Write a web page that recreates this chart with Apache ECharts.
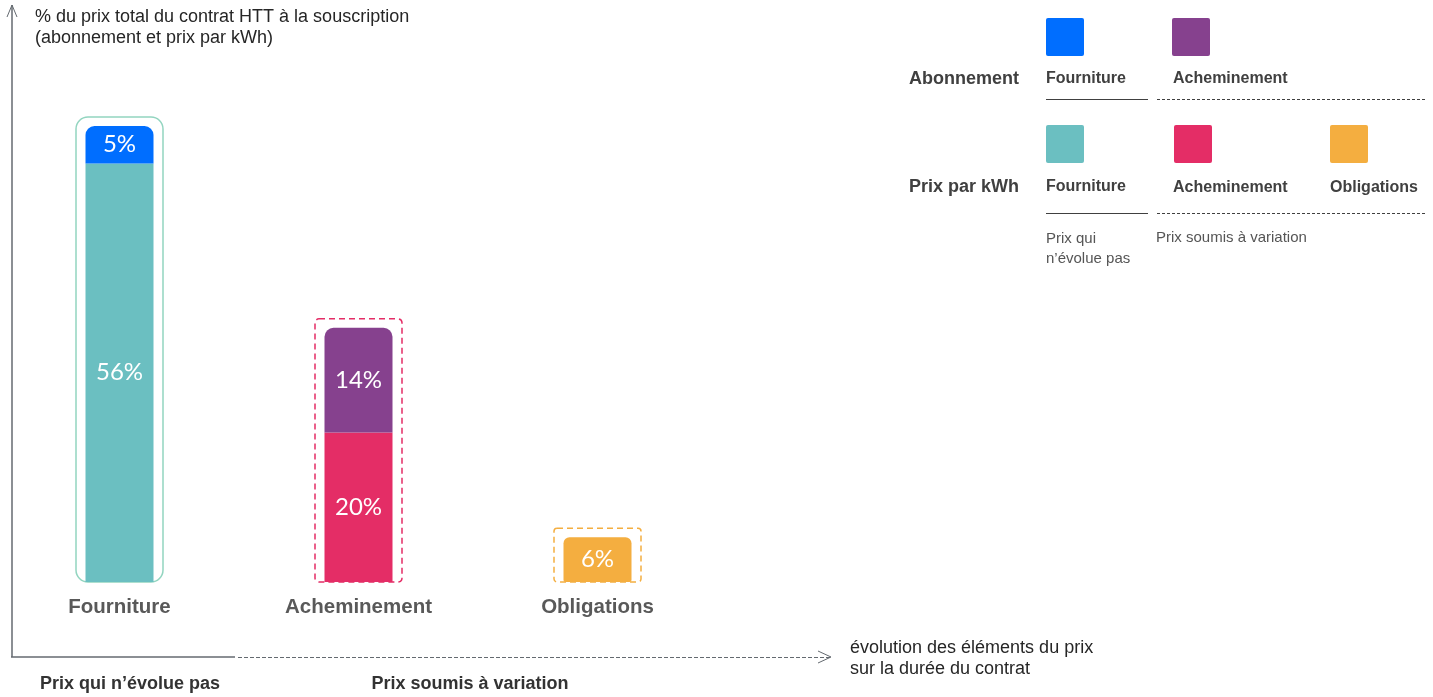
<!DOCTYPE html>
<html>
<head>
<meta charset="utf-8">
<script src="https://cdn.jsdelivr.net/npm/echarts@6/dist/echarts.min.js"></script>
<style>
html,body{margin:0;padding:0;background:#fff;}
#chart{width:1433px;height:697px;}
</style>
</head>
<body>
<div id="chart"></div>
<script>
// ---- data ----
const categories = ['Fourniture', 'Acheminement', 'Obligations'];
const kwhFourniture = [56, null, null];
const kwhAcheminement = [null, 20, null];
const kwhObligations = [null, null, 6];
const aboFourniture = [5, null, null];
const aboAcheminement = [null, 14, null];
const colors = {
  aboF: '#006EFF', aboA: '#86418E',
  kwhF: '#6BBFC1', kwhA: '#E42D66', kwhO: '#F4AE40'
};

const totals = categories.map((c, i) =>
  [kwhFourniture, kwhAcheminement, kwhObligations, aboFourniture, aboAcheminement]
    .reduce((s, arr) => s + (arr[i] || 0), 0));

const FONT = '"Liberation Sans", Arial, sans-serif';
const boxStyles = [
  { stroke: '#93D5C0', lineWidth: 1.5, lineDash: null, r: 12 },
  { stroke: '#E42D66', lineWidth: 1.5, lineDash: [6, 4], r: 4 },
  { stroke: '#F4AE40', lineWidth: 1.5, lineDash: [6, 4], r: 3 }
];

const labelCfg = {
  show: true, position: 'inside', color: '#fff', fontSize: 24,
  fontFamily: 'Lato, "Open Sans", sans-serif',
  formatter: p => (p.value == null ? '' : p.value + '%')
};

function bar(name, data, color, radius) {
  return {
    name, type: 'bar', stack: 'total', data, barWidth: 68,
    itemStyle: { color, borderRadius: radius || 0 },
    label: labelCfg, emphasis: { disabled: true }, z: 3
  };
}

const txt = (text, x, y, opts) => ({
  type: 'text', silent: true,
  style: Object.assign({
    text, x, y, font: '15px ' + FONT, fill: '#404040',
    textAlign: 'left', textVerticalAlign: 'middle'
  }, opts || {})
});
const sq = (x, y, color) => ({
  type: 'rect', silent: true,
  shape: { x, y, width: 38, height: 38, r: 2 },
  style: { fill: color }
});
const ln = (x1, y1, x2, y2, dash, color, w) => ({
  type: 'line', silent: true,
  shape: { x1, y1, x2, y2 },
  style: { stroke: color || '#404040', lineWidth: w || 1, lineDash: dash || null }
});

const graphic = [
  // y axis
  ln(12, 5, 12, 657, null, '#646a70', 1.5),
  { type: 'polyline', silent: true, shape: { points: [[7, 17], [12, 5], [17, 17]] },
    style: { stroke: '#646a70', lineWidth: 1, fill: null } },
  // x axis
  ln(11, 657, 235, 657, null, '#646a70', 1.5),
  ln(238, 657.5, 830, 657.5, [4, 2], '#646a70', 1),
  { type: 'polyline', silent: true, shape: { points: [[818, 651], [831, 657], [818, 663]] },
    style: { stroke: '#646a70', lineWidth: 1, fill: null } },
  // axis titles
  txt('% du prix total du contrat HTT à la souscription', 35, 17, { font: '18px ' + FONT, fill: '#262626' }),
  txt('(abonnement et prix par kWh)', 35, 38, { font: '18px ' + FONT, fill: '#262626' }),
  txt('évolution des éléments du prix', 850, 648, { font: '18px ' + FONT, fill: '#262626' }),
  txt('sur la durée du contrat', 850, 669, { font: '18px ' + FONT, fill: '#262626' }),
  txt('Prix qui n’évolue pas', 130, 684, { font: 'bold 18px ' + FONT, textAlign: 'center', fill: '#333' }),
  txt('Prix soumis à variation', 470, 684, { font: 'bold 18px ' + FONT, textAlign: 'center', fill: '#333' }),
  // legend
  sq(1046, 18, colors.aboF), sq(1172, 18, colors.aboA),
  sq(1046, 125, colors.kwhF), sq(1174, 125, colors.kwhA), sq(1330, 125, colors.kwhO),
  txt('Abonnement', 909, 79, { font: 'bold 18px ' + FONT }),
  txt('Fourniture', 1046, 79, { font: 'bold 16px ' + FONT }),
  txt('Acheminement', 1173, 79, { font: 'bold 16px ' + FONT }),
  txt('Prix par kWh', 909, 187, { font: 'bold 18px ' + FONT }),
  txt('Fourniture', 1046, 187, { font: 'bold 16px ' + FONT }),
  txt('Acheminement', 1173, 188, { font: 'bold 16px ' + FONT }),
  txt('Obligations', 1330, 188, { font: 'bold 16px ' + FONT }),
  ln(1046, 99.5, 1148, 99.5, null, '#404040', 1),
  ln(1157, 99.5, 1426, 99.5, [3, 2], '#404040', 1),
  ln(1046, 213.5, 1148, 213.5, null, '#404040', 1),
  ln(1157, 213.5, 1426, 213.5, [3, 2], '#404040', 1),
  txt('Prix qui', 1046, 239, { font: '15px ' + FONT, fill: '#555' }),
  txt('n’évolue pas', 1046, 259, { font: '15px ' + FONT, fill: '#555' }),
  txt('Prix soumis à variation', 1156, 238, { font: '15px ' + FONT, fill: '#555' })
];

const chart = echarts.init(document.getElementById('chart'));
chart.setOption({
  backgroundColor: '#fff',
  animation: false,
  grid: { left: -3, right: 716, top: 126, bottom: 115, containLabel: false },
  xAxis: {
    type: 'category', data: categories,
    axisLine: { show: false }, axisTick: { show: false },
    axisLabel: {
      margin: 15, fontSize: 20.5, fontWeight: 'bold', color: '#595959', fontFamily: FONT,
      interval: 0
    }
  },
  yAxis: { type: 'value', min: 0, max: 61, show: false, splitLine: { show: false } },
  series: [
    bar('Prix par kWh - Fourniture', kwhFourniture, colors.kwhF),
    bar('Prix par kWh - Acheminement', kwhAcheminement, colors.kwhA),
    bar('Prix par kWh - Obligations', kwhObligations, colors.kwhO, [6, 6, 2, 2]),
    bar('Abonnement - Fourniture', aboFourniture, colors.aboF, [9, 9, 0, 0]),
    bar('Abonnement - Acheminement', aboAcheminement, colors.aboA, [9, 9, 0, 0]),
    {
      type: 'custom', name: 'cadre', silent: true, z: 2,
      data: totals.map((t, i) => [i, t]),
      renderItem: (params, api) => {
        const i = api.value(0);
        const top = api.coord([i, api.value(1)]);
        const base = api.coord([i, 0]);
        const s = boxStyles[i];
        return {
          type: 'rect',
          shape: { x: top[0] - 43.5, y: top[1] - 9, width: 87, height: base[1] - top[1] + 9, r: s.r },
          style: { fill: 'none', stroke: s.stroke, lineWidth: s.lineWidth, lineDash: s.lineDash }
        };
      }
    }
  ],
  graphic
});
</script>
</body>
</html>
